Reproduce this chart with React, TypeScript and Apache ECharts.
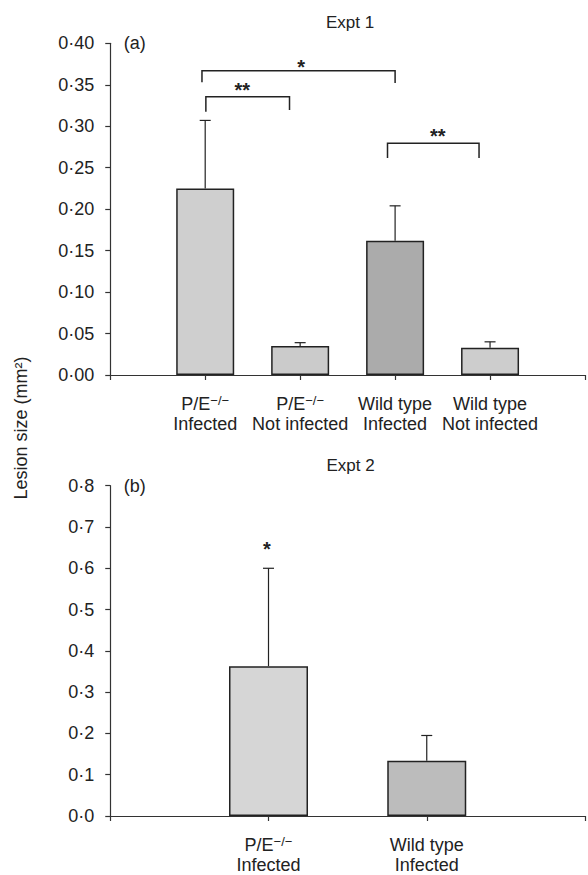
import React, { useEffect, useRef } from 'react';
import * as echarts from 'echarts';

// ---------- Expt 1 (a) ----------
const genotypesA = ['P/E−/−', 'P/E−/−', 'Wild type', 'Wild type'];
const statusA = ['Infected', 'Not infected', 'Infected', 'Not infected'];
const meansA = [0.225, 0.035, 0.162, 0.033];
const upperA = [0.307, 0.039, 0.204, 0.040];
const yTicksA = ['0·00', '0·05', '0·10', '0·15', '0·20', '0·25', '0·30', '0·35', '0·40'];
// [x1, x2, yTop, yLeftEnd, yRightEnd] in category units / data units
const bracketsA = [
  [0.966, 3.0, 0.367, 0.353, 0.352],
  [1.007, 1.888, 0.3356, 0.3175, 0.3196],
  [2.92, 3.884, 0.2794, 0.2617, 0.2617],
];
const starsA: [number, number, string][] = [
  [2.01, 0.3714, '*'],
  [1.39, 0.3432, '**'],
  [3.45, 0.2877, '**'],
];

// ---------- Expt 2 (b) ----------
const genotypesB = ['P/E−/−', 'Wild type'];
const statusB = ['Infected', 'Infected'];
const meansB = [0.363, 0.134];
const upperB = [0.6, 0.195];
const yTicksB = ['0·0', '0·1', '0·2', '0·3', '0·4', '0·5', '0·6', '0·7', '0·8'];
const starsB: [number, number, string][] = [[0.99, 0.647, '*']];

const barColorsA = ['#cfcfcf', '#cbcbcb', '#ababab', '#cdcdcd'];
const barColorsB = ['#d6d6d6', '#bcbcbc'];

const FONT = '"Liberation Sans", Arial, sans-serif';
const TXT = '#222';

function catLabels(gen: string[], st: string[]) {
  return ['', ...gen.map((g, i) => `${g}\n${st[i]}`), ''];
}

function xCat(gridIndex: number, data: string[]) {
  return {
    type: 'category',
    gridIndex,
    data,
    boundaryGap: false,
    axisLine: { show: true, lineStyle: { color: '#333', width: 1.2 } },
    axisTick: { show: true, length: 5, interval: 0, lineStyle: { color: '#333', width: 1.2 } },
    axisLabel: {
      interval: 0,
      margin: 19,
      color: TXT,
      fontSize: 18,
      lineHeight: 20,
      fontFamily: FONT,
      formatter: (v: string) => (v ? v.replace('−/−', '{s|−/−}') : ''),
      rich: {
        s: { fontSize: 13, lineHeight: 4, verticalAlign: 'top', fontFamily: FONT, color: TXT },
      },
    },
    splitLine: { show: false },
  };
}

function yVal(gridIndex: number, max: number, interval: number, labels: string[]) {
  return {
    type: 'value',
    gridIndex,
    min: 0,
    max,
    interval,
    axisLine: { show: true, lineStyle: { color: '#333', width: 1.2 } },
    axisTick: { show: true, length: 5, lineStyle: { color: '#333', width: 1.2 } },
    axisLabel: {
      margin: 16,
      color: TXT,
      fontSize: 18,
      fontFamily: FONT,
      formatter: (v: number) => labels[Math.round(v / interval)] ?? '',
    },
    splitLine: { show: false },
  };
}

function barSeries(xi: number, yi: number, means: number[], colors: string[], width: number) {
  return {
    type: 'bar',
    xAxisIndex: xi,
    yAxisIndex: yi,
    barWidth: width,
    data: ['-', ...means.map((m, i) => ({ value: m, itemStyle: { color: colors[i] } })), '-'],
    itemStyle: { borderColor: '#222', borderWidth: 1.5 },
    silent: true,
  };
}

function errSeries(xi: number, yi: number, means: number[], upper: number[]) {
  return {
    type: 'custom',
    xAxisIndex: xi,
    yAxisIndex: yi,
    z: 5,
    data: means.map((m, i) => [i + 1, m, upper[i]]),
    encode: { x: 0, y: [1, 2] },
    renderItem: (params: any, api: any) => {
      const x = api.value(0);
      const lo = api.coord([x, api.value(1)]);
      const hi = api.coord([x, api.value(2)]);
      const st = { stroke: '#222', lineWidth: 1.2 };
      return {
        type: 'group',
        children: [
          { type: 'line', shape: { x1: lo[0], y1: lo[1], x2: hi[0], y2: hi[1] }, style: st },
          { type: 'line', shape: { x1: hi[0] - 5.5, y1: hi[1], x2: hi[0] + 5.5, y2: hi[1] }, style: st },
        ],
      };
    },
  };
}

function bracketSeries(xi: number, yi: number, br: number[][]) {
  return {
    type: 'custom',
    xAxisIndex: xi,
    yAxisIndex: yi,
    z: 5,
    data: br,
    encode: { x: [0, 1], y: [2, 3, 4] },
    renderItem: (params: any, api: any) => {
      const x1 = api.value(0), x2 = api.value(1), y = api.value(2), yl = api.value(3), yr = api.value(4);
      const pts = [api.coord([x1, yl]), api.coord([x1, y]), api.coord([x2, y]), api.coord([x2, yr])];
      return {
        type: 'polyline',
        shape: { points: pts },
        style: { stroke: '#222', lineWidth: 1.5, fill: 'none' },
      };
    },
  };
}

function starSeries(xi: number, yi: number, stars: [number, number, string][]) {
  return {
    type: 'custom',
    xAxisIndex: xi,
    yAxisIndex: yi,
    z: 6,
    data: stars.map((s) => [s[0], s[1]]),
    encode: { x: 0, y: 1 },
    renderItem: (params: any, api: any) => {
      const p = api.coord([api.value(0), api.value(1)]);
      return {
        type: 'text',
        x: p[0],
        y: p[1],
        style: {
          text: stars[params.dataIndex][2],
          align: 'center',
          verticalAlign: 'middle',
          fontSize: 20,
          fontWeight: 'bold',
          fontFamily: FONT,
          fill: TXT,
        },
      };
    },
  };
}

function txt(text: string, x: number, y: number, size: number, align = 'center', rotation = 0) {
  return {
    type: 'text',
    x,
    y,
    rotation,
    style: { text, align, verticalAlign: 'middle', fontSize: size, fontFamily: FONT, fill: TXT },
  };
}

export default function App() {
  const ref = useRef<HTMLDivElement>(null);
  useEffect(() => {
    if (!ref.current) return;
    const chart = echarts.init(ref.current, null, { renderer: 'svg' });
    chart.setOption({
      animation: false,
      backgroundColor: '#ffffff',
      grid: [
        { left: 110.25, top: 43.3, width: 479.5, height: 331.7 },
        { left: 110.25, top: 485.7, width: 479.5, height: 332.6 },
      ],
      xAxis: [
        xCat(0, catLabels(genotypesA, statusA)),
        { type: 'value', gridIndex: 0, min: 0, max: genotypesA.length + 1, show: false },
        xCat(1, catLabels(genotypesB, statusB)),
        { type: 'value', gridIndex: 1, min: 0, max: genotypesB.length + 1, show: false },
      ],
      yAxis: [yVal(0, 0.4, 0.05, yTicksA), yVal(1, 0.8, 0.1, yTicksB)],
      series: [
        barSeries(0, 0, meansA, barColorsA, 58),
        errSeries(0, 0, meansA, upperA),
        bracketSeries(1, 0, bracketsA),
        starSeries(1, 0, starsA),
        barSeries(2, 1, meansB, barColorsB, 79),
        errSeries(2, 1, meansB, upperB),
        starSeries(3, 1, starsB),
      ],
      graphic: [
        txt('Expt 1', 350, 22.7, 17),
        txt('(a)', 123.7, 43.3, 18, 'left'),
        txt('Expt 2', 350.6, 465, 17),
        txt('(b)', 123.7, 486, 18, 'left'),
        txt('Lesion size (mm²)', 21, 428, 18, 'center', Math.PI / 2),
      ],
    });
    return () => chart.dispose();
  }, []);
  return (
    <div
      ref={ref}
      style={{ position: 'absolute', left: 0, top: 0, width: 588, height: 875, background: '#fff' }}
    />
  );
}
